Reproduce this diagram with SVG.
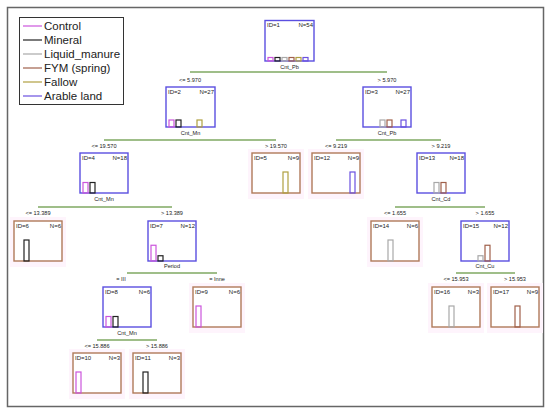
<svg xmlns="http://www.w3.org/2000/svg" width="550" height="416" viewBox="0 0 550 416">
<style>
text{font-family:"Liberation Sans",Arial,sans-serif;fill:#222}
.lg{font-size:11.5px}
.t{font-size:6px}
.s{font-size:5.6px;text-anchor:middle}
.in{fill:#fff;stroke:#5b4fe0;stroke-width:1.4}
.lf{fill:#fff;stroke:#b07a5a;stroke-width:1.4}
.halo{fill:#fef4fc;stroke:none}
.sp{stroke:#7fa862;stroke-width:1.5;fill:none}
.b{fill:none;stroke-width:1.2}
.c0{stroke:#cc55dd}.c1{stroke:#222}.c2{stroke:#a8a8a8}.c3{stroke:#a0604a}.c4{stroke:#b0a040}.c5{stroke:#6a50e0}
.r{text-anchor:end}
</style>
<rect x="7.5" y="7.5" width="536" height="399" fill="#fff" stroke="#666" stroke-width="1.5"/>
<g id="legend">
<rect x="19.5" y="17.5" width="104" height="87" fill="#fff" stroke="#333" stroke-width="1"/>
<line x1="23" y1="26" x2="42" y2="26" class="c0" stroke-width="1.2"/><text class="lg" x="44" y="30">Control</text>
<line x1="23" y1="40" x2="42" y2="40" class="c1" stroke-width="1.2"/><text class="lg" x="44" y="44">Mineral</text>
<line x1="23" y1="54" x2="42" y2="54" class="c2" stroke-width="1.2"/><text class="lg" x="44" y="58">Liquid_manure</text>
<line x1="23" y1="68" x2="42" y2="68" class="c3" stroke-width="1.2"/><text class="lg" x="44" y="72">FYM (spring)</text>
<line x1="23" y1="82" x2="42" y2="82" class="c4" stroke-width="1.2"/><text class="lg" x="44" y="86">Fallow</text>
<line x1="23" y1="96" x2="42" y2="96" class="c5" stroke-width="1.2"/><text class="lg" x="44" y="100">Arable land</text>
</g>
<g id="connectors">
<line class="sp" x1="190" y1="72" x2="387" y2="72"/>
<line class="sp" x1="104" y1="140" x2="276" y2="140"/>
<line class="sp" x1="336" y1="140" x2="441" y2="140"/>
<line class="sp" x1="38" y1="207" x2="172" y2="207"/>
<line class="sp" x1="395" y1="207" x2="485" y2="207"/>
<line class="sp" x1="127" y1="273" x2="217" y2="273"/>
<line class="sp" x1="456" y1="273" x2="515" y2="273"/>
<line class="sp" x1="97" y1="340" x2="157" y2="340"/>
<text class="s" x="190" y="82">&lt;= 5.970</text>
<text class="s" x="387" y="82">&gt; 5.970</text>
<text class="s" x="104" y="148">&lt;= 19.570</text>
<text class="s" x="276" y="148">&gt; 19.570</text>
<text class="s" x="336" y="148">&lt;= 9.219</text>
<text class="s" x="441" y="148">&gt; 9.219</text>
<text class="s" x="38" y="215">&lt;= 13.389</text>
<text class="s" x="172" y="215">&gt; 13.389</text>
<text class="s" x="395" y="215">&lt;= 1.655</text>
<text class="s" x="485" y="215">&gt; 1.655</text>
<text class="s" x="121" y="281">= III</text>
<text class="s" x="217" y="281">= Inne</text>
<text class="s" x="456" y="281">&lt;= 15.953</text>
<text class="s" x="515" y="281">&gt; 15.953</text>
<text class="s" x="97" y="348">&lt;= 15.886</text>
<text class="s" x="157" y="348">&gt; 15.886</text>
</g>
<g id="node1">
<rect class="in" x="265" y="20.5" width="49" height="40.5"/>
<text class="t" x="267" y="27">ID=1</text><text class="t r" x="313" y="27">N=54</text>
<rect class="b c0" x="268" y="57.5" width="5" height="3.5"/><rect class="b c1" x="275" y="57.5" width="5" height="3.5"/><rect class="b c2" x="282" y="57.5" width="5" height="3.5"/><rect class="b c3" x="289" y="57.5" width="5" height="3.5"/><rect class="b c4" x="296" y="57.5" width="5" height="3.5"/><rect class="b c5" x="303" y="57.5" width="5" height="3.5"/>
<text class="s" x="289.5" y="69">Cnt_Pb</text>
</g>
<g id="node2">
<rect class="in" x="166" y="87" width="49" height="40"/>
<text class="t" x="168" y="93.5">ID=2</text><text class="t r" x="214" y="93.5">N=27</text>
<rect class="b c0" x="169" y="120" width="5" height="7"/><rect class="b c1" x="176" y="120" width="5" height="7"/><rect class="b c4" x="197" y="120" width="5" height="7"/>
<text class="s" x="190.5" y="135">Cnt_Mn</text>
</g>
<g id="node3">
<rect class="in" x="363" y="87" width="48" height="40"/>
<text class="t" x="365" y="93.5">ID=3</text><text class="t r" x="410" y="93.5">N=27</text>
<rect class="b c2" x="380" y="120" width="5" height="7"/><rect class="b c3" x="387" y="120" width="5" height="7"/><rect class="b c5" x="401" y="120" width="5" height="7"/>
<text class="s" x="387" y="135">Cnt_Pb</text>
</g>
<g id="node4">
<rect class="in" x="80" y="153" width="48" height="40"/>
<text class="t" x="82" y="159.5">ID=4</text><text class="t r" x="127" y="159.5">N=18</text>
<rect class="b c0" x="83" y="182.5" width="5" height="10.5"/><rect class="b c1" x="90" y="182.5" width="5" height="10.5"/>
<text class="s" x="104" y="201">Cnt_Mn</text>
</g>
<g id="node5">
<rect class="halo" x="248" y="149" width="56" height="50"/>
<rect class="lf" x="252" y="153" width="48" height="40"/>
<text class="t" x="254" y="159.5">ID=5</text><text class="t r" x="299" y="159.5">N=9</text>
<rect class="b c4" x="283" y="172" width="5" height="21"/>
</g>
<g id="node12">
<rect class="halo" x="308" y="149" width="56" height="50"/>
<rect class="lf" x="312" y="153" width="48" height="40"/>
<text class="t" x="314" y="159.5">ID=12</text><text class="t r" x="359" y="159.5">N=9</text>
<rect class="b c5" x="350" y="172" width="5" height="21"/>
</g>
<g id="node13">
<rect class="in" x="417" y="153" width="48" height="40"/>
<text class="t" x="419" y="159.5">ID=13</text><text class="t r" x="464" y="159.5">N=18</text>
<rect class="b c2" x="434" y="182.5" width="5" height="10.5"/><rect class="b c3" x="441" y="182.5" width="5" height="10.5"/>
<text class="s" x="441" y="201">Cnt_Cd</text>
</g>
<g id="node6">
<rect class="halo" x="10" y="217" width="56" height="50"/>
<rect class="lf" x="14" y="221" width="48" height="40"/>
<text class="t" x="16" y="227.5">ID=6</text><text class="t r" x="61" y="227.5">N=6</text>
<rect class="b c1" x="24" y="240" width="5" height="21"/>
</g>
<g id="node7">
<rect class="in" x="148" y="221" width="48" height="40"/>
<text class="t" x="150" y="227.5">ID=7</text><text class="t r" x="195" y="227.5">N=12</text>
<rect class="b c0" x="151" y="245.25" width="5" height="15.75"/><rect class="b c1" x="158" y="255.75" width="5" height="5.25"/>
<text class="s" x="172" y="268">Period</text>
</g>
<g id="node14">
<rect class="halo" x="367" y="217" width="56" height="50"/>
<rect class="lf" x="371" y="221" width="48" height="40"/>
<text class="t" x="373" y="227.5">ID=14</text><text class="t r" x="418" y="227.5">N=6</text>
<rect class="b c2" x="388" y="240" width="5" height="21"/>
</g>
<g id="node15">
<rect class="in" x="461" y="221" width="48" height="40"/>
<text class="t" x="463" y="227.5">ID=15</text><text class="t r" x="508" y="227.5">N=12</text>
<rect class="b c2" x="478" y="255.75" width="5" height="5.25"/><rect class="b c3" x="485" y="245.25" width="5" height="15.75"/>
<text class="s" x="485" y="268">Cnt_Cu</text>
</g>
<g id="node8">
<rect class="in" x="103" y="287" width="48" height="40"/>
<text class="t" x="105" y="293.5">ID=8</text><text class="t r" x="150" y="293.5">N=6</text>
<rect class="b c0" x="106" y="316.5" width="5" height="10.5"/><rect class="b c1" x="113" y="316.5" width="5" height="10.5"/>
<text class="s" x="127" y="335">Cnt_Mn</text>
</g>
<g id="node9">
<rect class="halo" x="189" y="283" width="56" height="50"/>
<rect class="lf" x="193" y="287" width="48" height="40"/>
<text class="t" x="195" y="293.5">ID=9</text><text class="t r" x="240" y="293.5">N=6</text>
<rect class="b c0" x="196" y="306" width="5" height="21"/>
</g>
<g id="node16">
<rect class="halo" x="428" y="283" width="56" height="50"/>
<rect class="lf" x="432" y="287" width="48" height="40"/>
<text class="t" x="434" y="293.5">ID=16</text><text class="t r" x="479" y="293.5">N=3</text>
<rect class="b c2" x="449" y="306" width="5" height="21"/>
</g>
<g id="node17">
<rect class="halo" x="487" y="283" width="56" height="50"/>
<rect class="lf" x="491" y="287" width="48" height="40"/>
<text class="t" x="493" y="293.5">ID=17</text><text class="t r" x="538" y="293.5">N=9</text>
<rect class="b c3" x="515" y="306" width="5" height="21"/>
</g>
<g id="node10">
<rect class="halo" x="69" y="349" width="56" height="50"/>
<rect class="lf" x="73" y="353" width="48" height="40"/>
<text class="t" x="75" y="359.5">ID=10</text><text class="t r" x="120" y="359.5">N=3</text>
<rect class="b c0" x="76" y="372" width="5" height="21"/>
</g>
<g id="node11">
<rect class="halo" x="129" y="349" width="56" height="50"/>
<rect class="lf" x="133" y="353" width="48" height="40"/>
<text class="t" x="135" y="359.5">ID=11</text><text class="t r" x="180" y="359.5">N=3</text>
<rect class="b c1" x="143" y="372" width="5" height="21"/>
</g>
</svg>
